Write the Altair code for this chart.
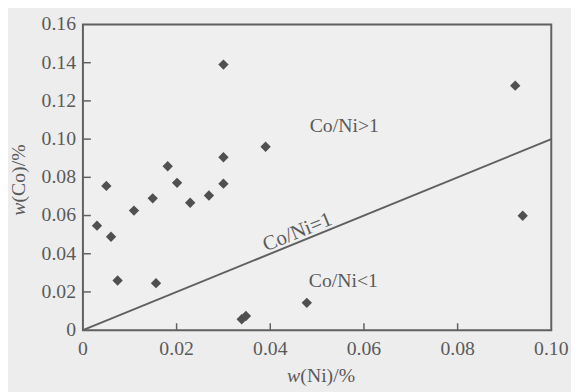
import altair as alt
import pandas as pd

# data
ni = [0.003, 0.005, 0.006, 0.0074, 0.0109, 0.0149, 0.0156, 0.0181, 0.0201, 0.0229,
      0.0269, 0.030, 0.030, 0.030, 0.0339, 0.0348, 0.039, 0.0478, 0.0923, 0.0939]
co = [0.0547, 0.0755, 0.0489, 0.026, 0.0626, 0.069, 0.0246, 0.0858, 0.0771, 0.0667,
      0.0705, 0.139, 0.0905, 0.0767, 0.0057, 0.0074, 0.096, 0.0143, 0.128, 0.0599]

line_x = [0.0, 0.1]
line_y = [0.0, 0.1]

x_ticks = [0.02, 0.04, 0.06, 0.08]
y_ticks = [0.02, 0.04, 0.06, 0.08, 0.10, 0.12, 0.14]

x_label_values = [0, 0.02, 0.04, 0.06, 0.08, 0.10]
x_label_text = ["0", "0.02", "0.04", "0.06", "0.08", "0.10"]
y_label_values = [0, 0.02, 0.04, 0.06, 0.08, 0.10, 0.12, 0.14, 0.16]
y_label_text = ["0", "0.02", "0.04", "0.06", "0.08", "0.10", "0.12", "0.14", "0.16"]

ann_text = ["Co/Ni>1", "Co/Ni<1"]
ann_x = [0.0558, 0.0556]
ann_y = [0.1068, 0.0258]

diag_text = ["Co/Ni=1"]
diag_x = [0.0458]
diag_y = [0.0512]

FONT = "Times New Roman, Liberation Serif, serif"
FS = 20
TFS = 20
TXT = "#5a5a5a"
INK = "#505050"
LINE = "#606060"

pts = pd.DataFrame({"ni": ni, "co": co})
ln = pd.DataFrame({"ni": line_x, "co": line_y})
xt = pd.DataFrame({"v": x_ticks})
yt = pd.DataFrame({"v": y_ticks})
xl = pd.DataFrame({"v": x_label_values, "t": x_label_text})
yl = pd.DataFrame({"v": y_label_values, "t": y_label_text})
ann = pd.DataFrame({"t": ann_text, "ni": ann_x, "co": ann_y})
diag = pd.DataFrame({"t": diag_text, "ni": diag_x, "co": diag_y})
one = pd.DataFrame({"k": [0]})

xs = alt.Scale(domain=[0, 0.1], nice=False, zero=True)
ys = alt.Scale(domain=[0, 0.16], nice=False, zero=True)

def X(f):
    return alt.X(f, type="quantitative", scale=xs, axis=None)

def Y(f):
    return alt.Y(f, type="quantitative", scale=ys, axis=None)

points = alt.Chart(pts).mark_point(shape="diamond", filled=True, size=110,
                                   color=INK, opacity=1).encode(x=X("ni"), y=Y("co"))

diag_line = alt.Chart(ln).mark_line(color=LINE, strokeWidth=2).encode(x=X("ni"), y=Y("co"))

xtick_marks = alt.Chart(xt).mark_rule(color=LINE, strokeWidth=1.5).encode(
    x=X("v"), y=alt.value(310), y2=alt.value(303))
ytick_marks = alt.Chart(yt).mark_rule(color=LINE, strokeWidth=1.5).encode(
    y=Y("v"), x=alt.value(0), x2=alt.value(8))

xlabels = alt.Chart(xl).mark_text(font=FONT, fontSize=FS, color=TXT, align="center",
                                  baseline="middle").encode(
    x=X("v"), y=alt.value(329), text="t:N")
ylabels = alt.Chart(yl).mark_text(font=FONT, fontSize=FS, color=TXT, align="right",
                                  baseline="middle").encode(
    y=Y("v"), x=alt.value(-7), text="t:N")

ann_marks = alt.Chart(ann).mark_text(font=FONT, fontSize=FS, color=TXT,
                                     align="center", baseline="middle").encode(
    x=X("ni"), y=Y("co"), text="t:N")

diag_marks = alt.Chart(diag).mark_text(font=FONT, fontSize=FS + 1, color=TXT, angle=338,
                                       align="center", baseline="middle").encode(
    x=X("ni"), y=Y("co"), text="t:N")

# axis titles: italic w + regular rest
xt_w = alt.Chart(one).mark_text(text="w", font=FONT, fontSize=TFS, fontStyle="italic",
                                color=TXT, align="left", baseline="middle").encode(
    x=alt.value(207), y=alt.value(357))
xt_r = alt.Chart(one).mark_text(text="(Ni)/%", font=FONT, fontSize=TFS,
                                color=TXT, align="left", baseline="middle").encode(
    x=alt.value(220.5), y=alt.value(357))
yt_w = alt.Chart(one).mark_text(text="w", font=FONT, fontSize=TFS, fontStyle="italic",
                                color=TXT, align="left", baseline="middle", angle=270).encode(
    x=alt.value(-65), y=alt.value(194))
yt_r = alt.Chart(one).mark_text(text="(Co)/%", font=FONT, fontSize=TFS,
                                color=TXT, align="left", baseline="middle", angle=270).encode(
    x=alt.value(-65), y=alt.value(180.5))

chart = alt.layer(points, diag_line, xtick_marks, ytick_marks, xlabels, ylabels,
                  ann_marks, diag_marks, xt_w, xt_r, yt_w, yt_r).properties(
    width=475, height=310,
    autosize=alt.AutoSizeParams(type="none"),
    padding={"left": 76, "top": 14, "right": 20, "bottom": 60},
    background="#ededed",
).configure_view(
    stroke=LINE, strokeWidth=2, fill="#efefef"
)

chart.save("out.html", embed_options={"renderer": "svg", "actions": False})
